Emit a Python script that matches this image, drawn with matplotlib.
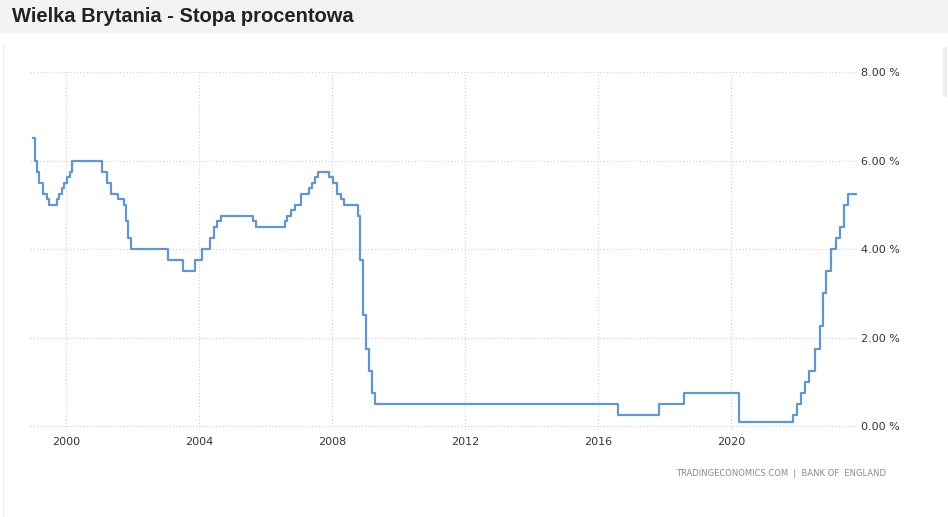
import matplotlib
matplotlib.use('Agg')
import matplotlib.pyplot as plt
from matplotlib.ticker import MultipleLocator, FuncFormatter
from matplotlib.patches import Rectangle

# Stopa procentowa BoE (odczyt z wykresu, lata dziesiętne)
years = [1999.02, 1999.07, 1999.14, 1999.20, 1999.30, 1999.42, 1999.50,
         1999.72, 1999.78, 1999.87, 1999.95, 2000.04, 2000.12, 2000.18,
         2001.07, 2001.22, 2001.34, 2001.55, 2001.73, 2001.80, 2001.86, 2001.96,
         2003.08, 2003.53, 2003.88, 2004.08, 2004.33, 2004.45, 2004.55, 2004.65,
         2005.62, 2005.70, 2006.58, 2006.66, 2006.78, 2006.90, 2007.07,
         2007.30, 2007.40, 2007.50, 2007.58, 2007.90, 2008.02, 2008.15,
         2008.27, 2008.37, 2008.77, 2008.85, 2008.93, 2009.03, 2009.10,
         2009.20, 2009.28, 2016.60, 2017.83, 2018.58, 2020.23,
         2021.87, 2021.98, 2022.12, 2022.22, 2022.35, 2022.52, 2022.67,
         2022.77, 2022.87, 2023.02, 2023.15, 2023.27, 2023.40, 2023.52, 2023.78]
rates = [6.50, 6.00, 5.75, 5.50, 5.25, 5.125, 5.00,
         5.125, 5.25, 5.375, 5.50, 5.625, 5.75, 6.00,
         5.75, 5.50, 5.25, 5.125, 5.00, 4.625, 4.25, 4.00,
         3.75, 3.50, 3.75, 4.00, 4.25, 4.50, 4.625, 4.75,
         4.625, 4.50, 4.625, 4.75, 4.875, 5.00, 5.25,
         5.375, 5.50, 5.625, 5.75, 5.625, 5.50, 5.25,
         5.125, 5.00, 4.75, 3.75, 2.50, 1.75, 1.25,
         0.75, 0.50, 0.25, 0.50, 0.75, 0.10,
         0.25, 0.50, 0.75, 1.00, 1.25, 1.75, 2.25,
         3.00, 3.50, 4.00, 4.25, 4.50, 5.00, 5.25, 5.25]

title = 'Wielka Brytania - Stopa procentowa'
source = 'TRADINGECONOMICS.COM  |  BANK OF  ENGLAND'

fig = plt.figure(figsize=(9.48, 5.17), dpi=100)
W, H = 948, 517

# szary pasek tytułu
fig.patches.append(Rectangle((0, 1 - 33 / H), 1, 33 / H, transform=fig.transFigure,
                             facecolor='#f3f3f3', edgecolor='none', zorder=0))
fig.text(12 / W, 1 - 17 / H, title, fontsize=14.5, fontweight='bold',
         family='Liberation Sans', color='#222222', va='center', ha='left')

# ramka panelu i pasek przewijania
fig.lines.append(plt.Line2D([3 / W, 3 / W], [0, 1 - 45 / H], transform=fig.transFigure,
                            color='#eeeeee', lw=0.8))
fig.patches.append(Rectangle((943 / W, 1 - 97 / H), 4 / W, 50 / H, transform=fig.transFigure,
                             facecolor='#eeeeee', edgecolor='none'))

ax = fig.add_axes([30 / W, 1 - 430 / H, 827 / W, 358 / H])
ax.plot(years, rates, drawstyle='steps-post', color='#6497c9', lw=1.6, zorder=3)

ax.set_xlim(1998.917, 2023.79)
ax.set_ylim(-0.09, 8.0)
ax.xaxis.set_major_locator(MultipleLocator(4))
ax.xaxis.set_major_formatter(FuncFormatter(lambda v, p: f'{int(v)}'))
ax.yaxis.set_major_locator(MultipleLocator(2))
ax.yaxis.set_major_formatter(FuncFormatter(lambda v, p: f'{v:.2f} %'))
ax.yaxis.tick_right()
ax.tick_params(axis='both', length=0, labelsize=8, labelcolor='#333344')
ax.tick_params(axis='y', pad=3)
ax.tick_params(axis='x', pad=5)

for s in ax.spines.values():
    s.set_visible(False)
ax.grid(True, color='#d4d4d4', linestyle=':', lw=0.9)
ax.set_axisbelow(True)

fig.text(886 / W, 1 - 474 / H, source, fontsize=6, color='#8a8a8a',
         ha='right', va='center')

plt.savefig('out.png', dpi=100)
